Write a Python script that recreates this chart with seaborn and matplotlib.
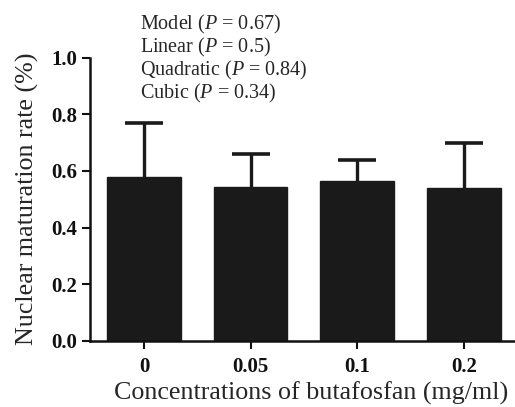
import matplotlib
matplotlib.use("Agg")
import matplotlib.pyplot as plt
import seaborn as sns
import pandas as pd

categories = ["0", "0.05", "0.1", "0.2"]
means = [0.579, 0.543, 0.563, 0.540]
sds = [0.191, 0.116, 0.077, 0.160]
y_ticks = [0.0, 0.2, 0.4, 0.6, 0.8, 1.0]
stats_lines = ["Model ($\\mathit{P}$ = 0.67)", "Linear ($\\mathit{P}$ = 0.5)",
               "Quadratic ($\\mathit{P}$ = 0.84)", "Cubic ($\\mathit{P}$ = 0.34)"]

sns.set_style("ticks")
plt.rcParams["font.family"] = ["Liberation Serif", "DejaVu Serif"]
plt.rcParams["mathtext.fontset"] = "custom"
plt.rcParams["mathtext.rm"] = "Liberation Serif"
plt.rcParams["mathtext.it"] = "Liberation Serif:italic"

df = pd.DataFrame({"conc": categories, "rate": means})

fig = plt.figure(figsize=(5.15, 4.07), dpi=100)
ax = fig.add_axes([90/515, (407-340.7)/407, 1 - 90/515, 283/407])

sns.barplot(data=df, x="conc", y="rate", color="#1a1a1a", saturation=1,
            width=0.69, errorbar=None, ax=ax, edgecolor="#1a1a1a", zorder=2)
eb = ax.errorbar(range(len(categories)), means, yerr=[[0]*len(sds), sds], fmt="none",
                 ecolor="#1a1a1a", elinewidth=2.4, capsize=14, capthick=2.6, zorder=1)
eb[1][0].set_visible(False)

ax.set_xlim(-0.506, 3.48)
ax.set_ylim(0, 1.0)
ax.set_yticks(y_ticks)
ax.set_yticklabels([f"{t:.1f}" for t in y_ticks], fontweight="bold", fontsize=15)
ax.set_xticks(range(len(categories)))
ax.set_xticklabels(categories, fontweight="bold", fontsize=15)
ax.tick_params(axis="both", direction="out", length=6, width=1.5, colors="#111111")
ax.tick_params(axis="x", pad=6)
ax.tick_params(axis="y", pad=3)
ax.set_xlabel("Concentrations of butafosfan (mg/ml)", fontsize=18.7)
ax.xaxis.set_label_coords(0.52, -0.145)
ax.set_ylabel("Nuclear maturation rate (%)", fontsize=18.7, labelpad=9)

for s in ["top", "right"]:
    ax.spines[s].set_visible(False)
for s in ["left", "bottom"]:
    ax.spines[s].set_linewidth(1.8)
    ax.spines[s].set_color("#111111")

y0 = 24
for i, line in enumerate(stats_lines):
    fig.text(140/515, 1 - (y0 + i*23)/407, line, fontsize=14.5, va="center", ha="left")

fig.savefig("out.png", dpi=100)
